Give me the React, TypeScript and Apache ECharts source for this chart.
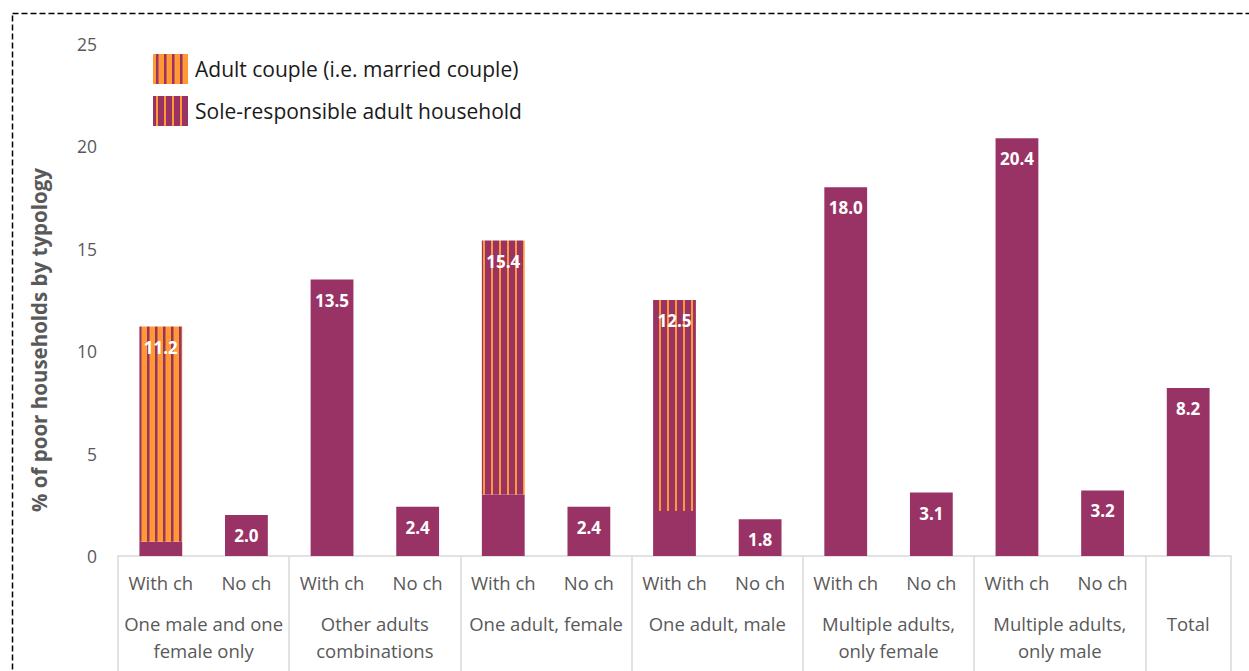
import React, { useEffect, useRef } from 'react';
import * as echarts from 'echarts';

const categories = ['With ch', 'No ch', 'With ch', 'No ch', 'With ch', 'No ch', 'With ch', 'No ch', 'With ch', 'No ch', 'With ch', 'No ch', ''];
const groups = ['One male and one\nfemale only', 'Other adults\ncombinations', 'One adult, female', 'One adult, male', 'Multiple adults,\nonly female', 'Multiple adults,\nonly male', 'Total'];
const groupSpans = [2, 2, 2, 2, 2, 2, 1];
const totals = [11.2, 2.0, 13.5, 2.4, 15.4, 2.4, 12.5, 1.8, 18.0, 3.1, 20.4, 3.2, 8.2];
const baseValues = [0.7, 2.0, 13.5, 2.4, 3.0, 2.4, 2.2, 1.8, 18.0, 3.1, 20.4, 3.2, 8.2];
const coupleValues = [10.5, null, null, null, null, null, null, null, null, null, null, null, null];
const soleValues = [null, null, null, null, 12.4, null, 10.3, null, null, null, null, null, null];
const seriesNames = ['Total', 'Adult couple (i.e. married couple)', 'Sole-responsible adult household'];

const PURPLE = '#993366';
const ORANGE = '#FF9933';
const FONT = 'Open Sans';

function stripe(bg: string, fg: string, w: number) {
  const c = document.createElement('canvas');
  c.width = 8;
  c.height = 8;
  const ctx = c.getContext('2d')!;
  ctx.fillStyle = bg;
  ctx.fillRect(0, 0, 8, 8);
  ctx.fillStyle = fg;
  ctx.fillRect(3, 0, w, 8);
  return c;
}

export default function App() {
  const ref = useRef<HTMLDivElement>(null);
  useEffect(() => {
    const chart = echarts.init(ref.current!, null, { renderer: 'svg' });
    const couplePattern = { image: stripe(ORANGE, PURPLE, 2.5), repeat: 'repeat' };
    const solePattern = { image: stripe(PURPLE, ORANGE, 2), repeat: 'repeat' };

    const groupCenters: Record<string, string> = {};
    let acc = 0;
    groupSpans.forEach((s, i) => {
      groupCenters[String(acc + s / 2)] = groups[i];
      acc += s;
    });

    const topIndex = (i: number) => (soleValues[i] != null ? 2 : coupleValues[i] != null ? 1 : 0);
    const label = (k: number) => ({
      show: true,
      position: 'insideTop',
      distance: 12,
      color: '#fff',
      fontWeight: 'bold',
      fontSize: 17,
      fontFamily: FONT,
      formatter: (p: any) => (topIndex(p.dataIndex) === k ? totals[p.dataIndex].toFixed(1) : ''),
    });

    chart.setOption({
      animation: false,
      grid: { left: 118, right: 18, top: 44, bottom: 115, containLabel: false },
      legend: {
        orient: 'vertical',
        left: 153,
        top: 54,
        itemWidth: 35,
        itemHeight: 30,
        itemGap: 12,
        padding: 0,
        icon: 'rect',
        data: [seriesNames[1], seriesNames[2]],
        textStyle: { fontSize: 21, color: '#1a1a1a', fontFamily: FONT, padding: [2, 0, 0, 2] },
      },
      xAxis: [
        {
          type: 'category',
          data: categories,
          position: 'bottom',
          axisLine: { show: true, lineStyle: { color: '#D9D9D9', width: 1.5 } },
          axisTick: {
            show: true,
            length: 120,
            interval: (index: number) => index % 2 === 0,
            lineStyle: { color: '#D9D9D9', width: 1.5 },
          },
          axisLabel: { interval: 0, margin: 17, fontSize: 18.5, color: '#595959', fontFamily: FONT },
        },
        {
          type: 'value',
          min: 0,
          max: 13,
          interval: 0.5,
          position: 'bottom',
          axisLine: { show: false },
          axisTick: { show: false },
          splitLine: { show: false },
          axisLabel: {
            margin: 54,
            fontSize: 18.5,
            lineHeight: 27,
            color: '#595959',
            fontFamily: FONT,
            showMinLabel: true,
            showMaxLabel: true,
            formatter: (v: number) => groupCenters[String(v)] || '',
          },
        },
      ],
      yAxis: {
        type: 'value',
        min: 0,
        max: 25,
        interval: 5,
        name: '% of poor households by typology',
        nameLocation: 'middle',
        nameGap: 69,
        nameTextStyle: { fontSize: 20.5, fontWeight: 'bold', color: '#595959', fontFamily: FONT, padding: [0, 80, 0, 0] },
        axisLine: { show: false },
        axisTick: { show: false },
        splitLine: { show: false },
        axisLabel: { margin: 21, fontSize: 17.5, color: '#595959', fontFamily: FONT },
      },
      series: [
        {
          name: seriesNames[0],
          type: 'bar',
          stack: 's',
          barWidth: '50%',
          data: baseValues,
          itemStyle: { color: PURPLE },
          label: label(0),
        },
        {
          name: seriesNames[1],
          type: 'bar',
          stack: 's',
          barWidth: '50%',
          data: coupleValues,
          itemStyle: { color: couplePattern },
          label: label(1),
        },
        {
          name: seriesNames[2],
          type: 'bar',
          stack: 's',
          barWidth: '50%',
          data: soleValues,
          itemStyle: { color: solePattern },
          label: label(2),
        },
      ],
      graphic: [
        {
          type: 'rect',
          silent: true,
          shape: { x: 12.5, y: 13.5, width: 1300, height: 720 },
          style: { fill: 'none', stroke: '#000', lineWidth: 1.5, lineDash: [6, 3] },
          z: 100,
        },
      ],
    } as any);
    return () => chart.dispose();
  }, []);
  return <div ref={ref} style={{ position: 'fixed', left: 0, top: 0, width: 1249, height: 671, background: '#fff' }} />;
}
